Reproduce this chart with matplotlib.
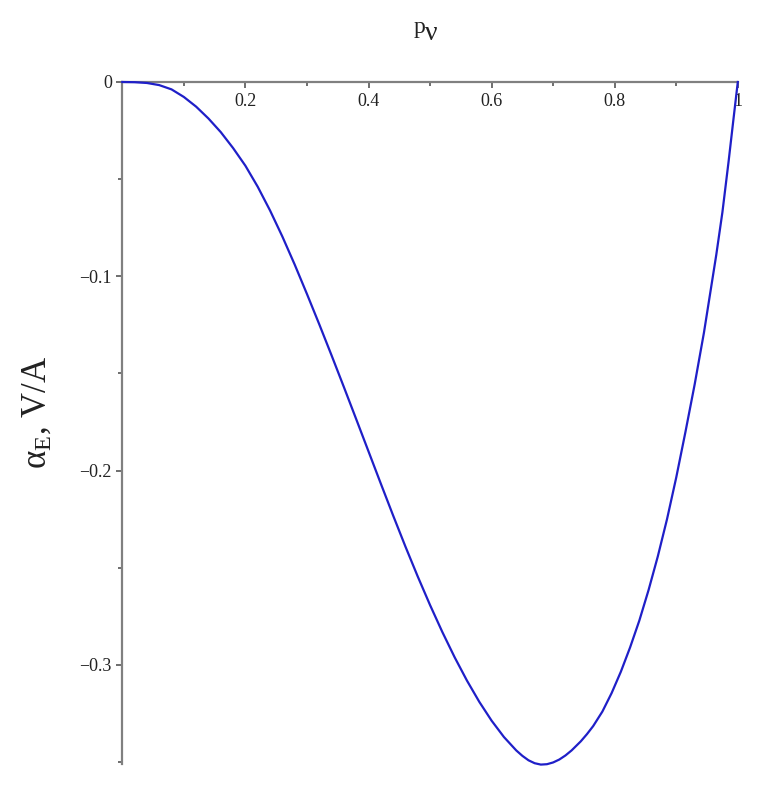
import matplotlib
matplotlib.use("Agg")
import matplotlib.pyplot as plt
from matplotlib.ticker import FixedLocator, FixedFormatter

# ---- data ----
p_nu = [0.0, 0.02, 0.04, 0.06, 0.08, 0.10, 0.12, 0.14, 0.16, 0.18, 0.20,
        0.22, 0.24, 0.26, 0.28, 0.30, 0.32, 0.34, 0.36, 0.38, 0.40, 0.42,
        0.44, 0.46, 0.48, 0.50, 0.52, 0.54, 0.56, 0.58, 0.60, 0.62, 0.64,
        0.65, 0.66, 0.67, 0.68, 0.69, 0.70, 0.71, 0.72, 0.73, 0.745, 0.755,
        0.765, 0.78, 0.795, 0.81, 0.825, 0.84, 0.855, 0.87, 0.885, 0.90,
        0.915, 0.93, 0.945, 0.955, 0.965, 0.975, 0.985, 0.993, 1.0]
alpha_E = [0.0, -0.0001, -0.0005, -0.0016, -0.0038, -0.0077, -0.0127,
           -0.0188, -0.0258, -0.0340, -0.0431, -0.0539, -0.0661, -0.0795,
           -0.0939, -0.1091, -0.1247, -0.1407, -0.1570, -0.1735, -0.1901,
           -0.2067, -0.2231, -0.2391, -0.2545, -0.2692, -0.2831, -0.2961,
           -0.3081, -0.3190, -0.3287, -0.3371, -0.3440, -0.3468, -0.3491,
           -0.3506, -0.3513, -0.3511, -0.3502, -0.3487, -0.3466, -0.3440,
           -0.3393, -0.3356, -0.3315, -0.3240, -0.3145, -0.3035, -0.2910,
           -0.2772, -0.2615, -0.2442, -0.2250, -0.2035, -0.1800, -0.1555,
           -0.1290, -0.1090, -0.0890, -0.0670, -0.0410, -0.0190, 0.0]

x_major = [0.2, 0.4, 0.6, 0.8, 1.0]
x_major_labels = ["0.2", "0.4", "0.6", "0.8", "1"]
x_minor = [0.1, 0.3, 0.5, 0.7, 0.9]
y_major = [0.0, -0.1, -0.2, -0.3]
y_major_labels = ["0", "\u22120.1", "\u22120.2", "\u22120.3"]
y_minor = [-0.05, -0.15, -0.25, -0.35]

plt.rcParams['font.family'] = ['Liberation Serif', 'DejaVu Serif']
plt.rcParams['mathtext.fontset'] = 'custom'
plt.rcParams['mathtext.rm'] = 'Liberation Serif'
plt.rcParams['mathtext.it'] = 'Liberation Serif:italic'

W, H = 762, 790
fig = plt.figure(figsize=(W / 100, H / 100), dpi=100)
x0, x1 = 122.3, 737.8
y0, y1 = 82.0, 764.0
ax = fig.add_axes([x0 / W, 1 - y1 / H, (x1 - x0) / W, (y1 - y0) / H])

ax.plot(p_nu, alpha_E, color='#1f1fc8', lw=1.6, clip_on=False, zorder=3,
        solid_joinstyle='round')

ax.set_xlim(0, 1)
ax.set_ylim(-0.351, 0)

spine_col = '#808080'
ax.spines['right'].set_visible(False)
ax.spines['top'].set_visible(False)
ax.spines['bottom'].set_position(('data', 0))
ax.spines['left'].set_position(('data', 0))
for s in ('bottom', 'left'):
    ax.spines[s].set_color(spine_col)
    ax.spines[s].set_linewidth(1.6)

ax.xaxis.set_major_locator(FixedLocator(x_major))
ax.xaxis.set_major_formatter(FixedFormatter(x_major_labels))
ax.xaxis.set_minor_locator(FixedLocator(x_minor))
ax.yaxis.set_major_locator(FixedLocator(y_major))
ax.yaxis.set_major_formatter(FixedFormatter(y_major_labels))
ax.yaxis.set_minor_locator(FixedLocator(y_minor))

ax.tick_params(axis='x', which='both', direction='out', color='#555555',
               width=1.2, labelsize=13, labelcolor='#222222')
ax.tick_params(axis='x', which='major', length=4.5, pad=3.5)
ax.tick_params(axis='x', which='minor', length=3)
ax.tick_params(axis='y', which='both', direction='out', color='#555555',
               width=1.2, labelsize=13, labelcolor='#222222')
ax.tick_params(axis='y', which='major', length=4.5, pad=3)
ax.tick_params(axis='y', which='minor', length=3)

# axis titles
fig.text(419 / W, 1 - 27 / H, "p", fontsize=17, ha='center', va='center',
         color='#222222')
fig.text(431 / W, 1 - 33 / H, "\u03bd", fontsize=20, ha='center',
         va='center', color='#222222')
fig.text(37 / W, 1 - 412 / H, "\u03b1$_{\\mathrm{E}}$, V/A",
         fontsize=25, rotation=90, ha='center', va='center', color='#222222')

fig.savefig("out.png", dpi=100)
